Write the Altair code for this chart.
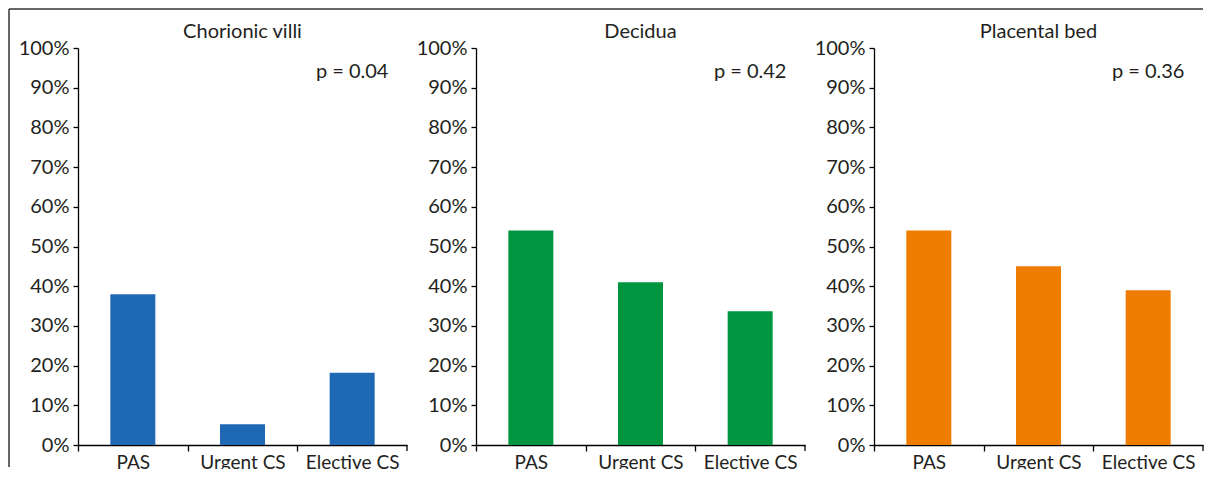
import altair as alt
import pandas as pd

tissues = ["Chorionic villi", "Decidua", "Placental bed"]
groups = ["PAS", "Urgent CS", "Elective CS"]
chorionic_villi = [38, 5.2, 18.2]
decidua = [54, 41, 33.7]
placental_bed = [54, 45, 39]
p_values = ["p = 0.04", "p = 0.42", "p = 0.36"]
colors = ["#1f69b4", "#00963f", "#ef7d00"]
y_ticks = [0, 10, 20, 30, 40, 50, 60, 70, 80, 90, 100]

series = [chorionic_villi, decidua, placental_bed]
FONT = "Lato"
FS = 20
TXT = "#231f20"
W, H = 329, 397
GAP = 69
label_js = "[" + ",".join('"%s"' % g for g in groups) + "][datum.value]"


def panel(i):
    df = pd.DataFrame({
        "group": groups,
        "pos": [k + 0.5 for k in range(len(groups))],
        "value": series[i],
    })
    x = alt.X(
        "pos:Q",
        scale=alt.Scale(domain=[0, len(groups)], nice=False, zero=False, padding=0),
        axis=alt.Axis(
            title=None, values=list(range(len(groups))), labelExpr=label_js,
            labelOffset=W / len(groups) / 2, labelFlush=False, labelOverlap=False,
            labelBound=False, tickSize=6, labelPadding=2, grid=False,
            labelFontSize=19,
        ),
    )
    y = alt.Y(
        "value:Q",
        scale=alt.Scale(domain=[0, 100], nice=False),
        axis=alt.Axis(
            title=None, values=y_ticks, labelExpr="datum.value + '%'",
            tickSize=5, labelPadding=4, grid=False, labelOverlap=False,
            labelFlush=False,
        ),
    )
    bars = alt.Chart(df).mark_bar(size=45, color=colors[i]).encode(x=x, y=y)
    pdf = pd.DataFrame({"pos": [len(groups) - 0.5], "value": [94], "label": [p_values[i]]})
    ptxt = alt.Chart(pdf).mark_text(
        font=FONT, fontSize=FS, color=TXT, align="center", baseline="middle"
    ).encode(x=x, y=y, text="label:N")
    tdf = pd.DataFrame({"pos": [len(groups) / 2], "label": [tissues[i]]})
    ttxt = alt.Chart(tdf).mark_text(
        font=FONT, fontSize=FS, color=TXT, align="center", baseline="alphabetic"
    ).encode(x=x, y=alt.value(-10), text="label:N")
    edf = pd.DataFrame({"pos": [len(groups)]})
    endtick = alt.Chart(edf).mark_rule(color="#000000", strokeWidth=1.3).encode(
        x=x, y=alt.value(H), y2=alt.value(H + 6))
    layers = [bars, ptxt, ttxt, endtick]
    if i == 0:
        fdf = pd.DataFrame({"k": [0]})
        left = alt.Chart(fdf).mark_rule(color="#333333", strokeWidth=1.5).encode(
            x=alt.value(-69), y=alt.value(-39), y2=alt.value(H + 22))
        top = alt.Chart(fdf).mark_rule(color="#333333", strokeWidth=1.5).encode(
            x=alt.value(-69), x2=alt.value(2 * (W + GAP) + W), y=alt.value(-39))
        layers += [left, top]
    return alt.layer(*layers).properties(width=W, height=H)


chart = alt.hconcat(*[panel(i) for i in range(3)], spacing=GAP, bounds="flush").properties(
    padding={"left": 0, "top": 0, "right": 0, "bottom": -3}
).configure_view(stroke=None).configure_axis(
    domainColor="#000000", tickColor="#000000", domainWidth=1.3, tickWidth=1.3,
    labelFont=FONT, labelFontSize=FS, labelColor=TXT,
)

chart.save("out.html", embed_options={"renderer": "svg", "actions": False})
